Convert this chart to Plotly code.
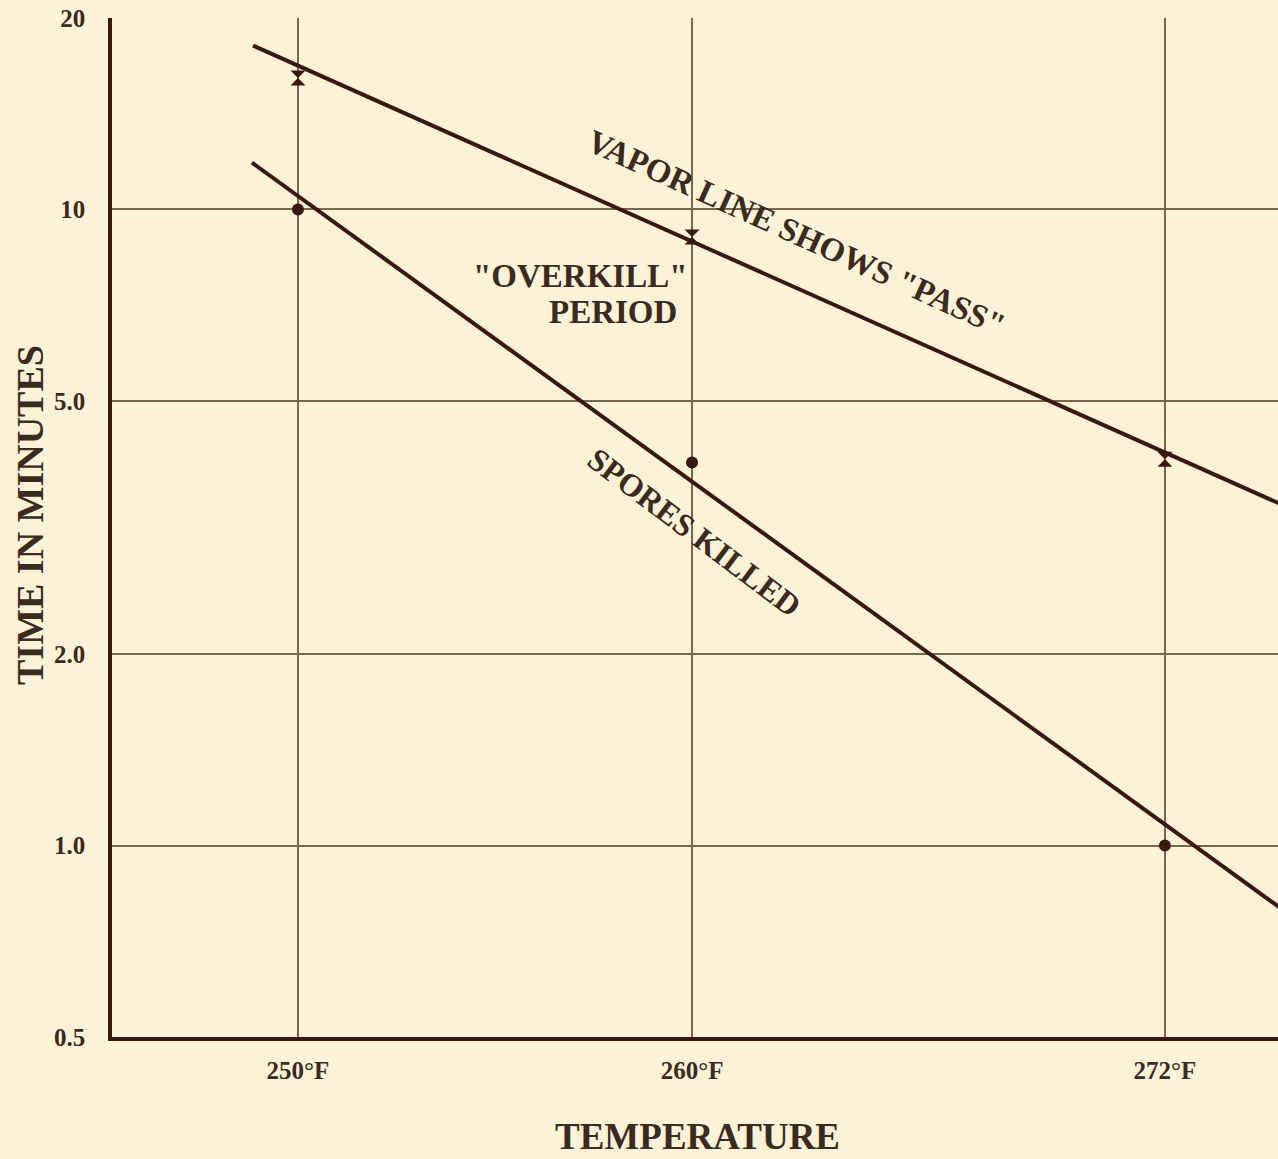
import plotly.graph_objects as go

# ---- data ----
temps = [250, 260, 272]
tick_text_x = ["250°F", "260°F", "272°F"]

spores_pts = [10.0, 4.0, 1.0]          # dots
vapor_pts = [16.1, 9.05, 4.05]         # hourglass markers

vapor_line_t = [248.86, 274.9]
vapor_line_min = [18.1, 3.45]
spores_line_t = [248.83, 274.9]
spores_line_min = [11.85, 0.80]

y_ticks = [0.5, 1, 2, 5, 10, 20]
y_tick_text = ["0.5", "1.0", "2.0", "5.0", "10", "20"]

BG = "#fcf2d8"
INK = "#3a1812"
TXT = "#3b2a20"
GRID = "#7a6650"
FONT = "Liberation Serif"

fig = go.Figure()
fig.add_trace(go.Scatter(x=vapor_line_t, y=vapor_line_min, mode="lines",
                         line=dict(color=INK, width=4), showlegend=False, hoverinfo="skip"))
fig.add_trace(go.Scatter(x=spores_line_t, y=spores_line_min, mode="lines",
                         line=dict(color=INK, width=4), showlegend=False, hoverinfo="skip"))
fig.add_trace(go.Scatter(x=temps, y=vapor_pts, mode="markers",
                         marker=dict(symbol="hourglass", size=15, color=INK),
                         showlegend=False, cliponaxis=False))
fig.add_trace(go.Scatter(x=temps, y=spores_pts, mode="markers",
                         marker=dict(symbol="circle", size=12, color=INK),
                         showlegend=False, cliponaxis=False))

def px(xp):
    return (xp - 112) / 1166

def py(yp):
    return (1037 - yp) / 1019

ann_font = dict(family=FONT, size=33, color=TXT)
annotations = [
    dict(text='<b>VAPOR LINE SHOWS "PASS"</b>', x=px(796), y=py(233), textangle=24.4,
         font=ann_font),
    dict(text='<b>SPORES KILLED</b>', x=px(694), y=py(532), textangle=37,
         font=dict(family=FONT, size=32, color=TXT)),
    dict(text='<b>"OVERKILL"</b>', x=px(580), y=py(276), font=ann_font),
    dict(text='<b>PERIOD</b>', x=px(613), y=py(312), font=ann_font),
    dict(text='<b>TIME IN MINUTES</b>', x=px(30), y=py(515), textangle=-90,
         font=dict(family=FONT, size=38, color=TXT)),
    dict(text='<b>TEMPERATURE</b>', x=px(697), y=py(1136),
         font=dict(family=FONT, size=37, color=TXT)),
]
for a in annotations:
    a.update(xref="paper", yref="paper", showarrow=False, xanchor="center", yanchor="middle")

fig.update_layout(
    width=1278, height=1159,
    margin=dict(l=112, r=0, t=18, b=122),
    paper_bgcolor=BG, plot_bgcolor=BG,
    annotations=annotations,
    showlegend=False,
)
fig.update_xaxes(
    range=[245.28, 274.87], tickvals=temps, ticktext=tick_text_x,
    showgrid=True, gridcolor=GRID, gridwidth=1.5, zeroline=False,
    showline=True, linecolor=INK, linewidth=4,
    ticks="", ticklabelstandoff=8,
    tickfont=dict(family=FONT, size=25, color=TXT, weight="bold"),
)
fig.update_yaxes(
    type="log", range=[-0.30103, 1.30103], tickvals=y_ticks, ticktext=y_tick_text,
    showgrid=True, gridcolor=GRID, gridwidth=1.5, zeroline=False,
    showline=True, linecolor=INK, linewidth=3.5,
    ticks="", ticklabelstandoff=18,
    tickfont=dict(family=FONT, size=25, color=TXT, weight="bold"),
)

fig.write_html("out.html", config={"displayModeBar": False},
               post_script="document.body.style.margin='0';")
